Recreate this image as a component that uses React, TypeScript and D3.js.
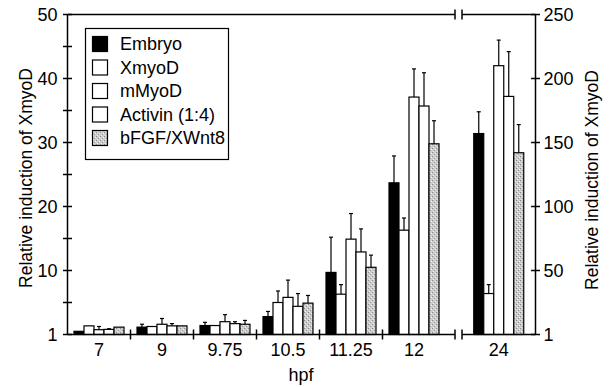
import { useRef, useEffect } from "react";
import * as d3 from "d3";

const groups = ["7", "9", "9.75", "10.5", "11.25", "12"];
const lateGroup = ["24"];
const series = ["Embryo", "XmyoD", "mMyoD", "Activin (1:4)", "bFGF/XWnt8"];

// early stages, left axis (0-50)
const embryo = [0.5, 1.15, 1.4, 2.8, 9.7, 23.7];
const xmyod = [1.35, 1.25, 1.4, 5.0, 6.3, 16.3];
const mmyod = [0.75, 1.6, 2.0, 5.8, 14.9, 37.1];
const activin = [0.8, 1.35, 1.7, 4.4, 12.9, 35.7];
const bfgf = [1.15, 1.35, 1.6, 4.9, 10.5, 29.8];

const embryoErr = [null, 1.6, 1.9, 3.6, 15.2, 27.9];
const xmyodErr = [null, null, null, 6.8, 7.8, 18.2];
const mmyodErr = [1.25, 2.5, 3.1, 8.5, 18.9, 41.5];
const activinErr = [0.9, 1.7, 2.0, 6.4, 16.5, 40.9];
const bfgfErr = [null, null, 2.2, 6.1, 12.4, 33.4];

// 24 hpf, right axis (0-250)
const late = [157, 32, 210, 186, 142];
const lateErr = [174, 39, 230, 221, 164];

const leftTicks = [0, 10, 20, 30, 40, 50];
const leftMinor = [5, 15, 25, 35, 45];
const rightTicks = [0, 50, 100, 150, 200, 250];

const fills = ["#000", "#fff", "#fff", "#fff", "url(#stipple)"];
const FONT = "'Liberation Sans', Arial, Helvetica, sans-serif";

export default function App() {
  const svgRef = useRef<SVGSVGElement>(null);

  useEffect(() => {
    const svg = d3.select(svgRef.current);
    svg.selectAll("*").remove();

    const W = 609, H = 387;
    const x0 = 67.5, x1 = 535.5, yTop = 14.5, yBot = 334.5;
    const brkA = 455, brkB = 462;

    const y = d3.scaleLinear().domain([0, 50]).range([yBot, yTop]);
    const yR = d3.scaleLinear().domain([0, 250]).range([yBot, yTop]);
    const xg = d3.scaleBand().domain(groups).range([x0, x0 + 63 * 6]);
    const xl = d3.scaleBand().domain(lateGroup).range([brkB, x1]);
    const xs = d3.scaleBand().domain(series).range([0, 50]);

    const defs = svg.append("defs");
    const pat = defs.append("pattern").attr("id", "stipple").attr("width", 4).attr("height", 4)
      .attr("patternUnits", "userSpaceOnUse");
    pat.append("rect").attr("width", 4).attr("height", 4).attr("fill", "#cdcdcd");
    pat.append("rect").attr("x", 0).attr("y", 0).attr("width", 1).attr("height", 1).attr("fill", "#8a8a8a");
    pat.append("rect").attr("x", 2).attr("y", 2).attr("width", 1).attr("height", 1).attr("fill", "#9a9a9a");
    pat.append("rect").attr("x", 3).attr("y", 1).attr("width", 1).attr("height", 1).attr("fill", "#f2f2f2");
    pat.append("rect").attr("x", 1).attr("y", 3).attr("width", 1).attr("height", 1).attr("fill", "#eeeeee");

    const g = svg.append("g");

    const earlyVals = [embryo, xmyod, mmyod, activin, bfgf];
    const earlyErrs = [embryoErr, xmyodErr, mmyodErr, activinErr, bfgfErr];

    type Bar = { x: number; top: number; err: number | null; s: number };
    const bars: Bar[] = [];
    groups.forEach((grp, gi) => {
      const off = xg(grp)! + (xg.bandwidth() - 50) / 2;
      series.forEach((s, si) => {
        const e = earlyErrs[si][gi];
        bars.push({ x: off + xs(s)!, top: y(earlyVals[si][gi]), err: e == null ? null : y(e), s: si });
      });
    });
    const offL = xl("24")! + (xl.bandwidth() - 50) / 2;
    series.forEach((s, si) => {
      bars.push({ x: offL + xs(s)!, top: yR(late[si]), err: yR(lateErr[si]), s: si });
    });

    const bw = xs.bandwidth();
    // error bars
    bars.filter(b => b.err != null).forEach(b => {
      const cx = b.x + bw / 2;
      g.append("line").attr("x1", cx).attr("x2", cx).attr("y1", b.top).attr("y2", b.err!)
        .attr("stroke", "#000").attr("stroke-width", 1.2);
      g.append("line").attr("x1", cx - 2).attr("x2", cx + 2).attr("y1", b.err!).attr("y2", b.err!)
        .attr("stroke", "#000").attr("stroke-width", 1.2);
    });
    g.selectAll(".bar").data(bars).enter().append("rect")
      .attr("x", d => d.x).attr("y", d => d.top)
      .attr("width", bw).attr("height", d => yBot - d.top)
      .attr("fill", d => fills[d.s]).attr("stroke", "#000").attr("stroke-width", 1.2);

    const ax = svg.append("g").attr("stroke", "#000").attr("stroke-width", 1.5).attr("fill", "none");
    // frame with breaks
    [yTop, yBot].forEach(yy => {
      ax.append("line").attr("x1", x0).attr("x2", brkA).attr("y1", yy).attr("y2", yy);
      ax.append("line").attr("x1", brkB).attr("x2", x1).attr("y1", yy).attr("y2", yy);
      [brkA, brkB].forEach(bx => ax.append("line").attr("x1", bx).attr("x2", bx).attr("y1", yy - 5).attr("y2", yy + 5));
    });
    ax.append("line").attr("x1", x0).attr("x2", x0).attr("y1", yTop).attr("y2", yBot);
    ax.append("line").attr("x1", x1).attr("x2", x1).attr("y1", yTop).attr("y2", yBot);

    // left ticks
    [...leftTicks, ...leftMinor].forEach(t => {
      ax.append("line").attr("x1", x0 - 4.5).attr("x2", x0 + 4.5).attr("y1", y(t)).attr("y2", y(t));
    });
    rightTicks.forEach(t => {
      ax.append("line").attr("x1", x1 - 4.5).attr("x2", x1 + 4.5).attr("y1", yR(t)).attr("y2", yR(t));
    });
    // x group separators
    groups.slice(1).forEach(grp => {
      const bx = xg(grp)!;
      ax.append("line").attr("x1", bx).attr("x2", bx).attr("y1", yBot - 5).attr("y2", yBot + 5);
    });

    const txt = svg.append("g").attr("font-family", FONT).attr("font-size", 18).attr("fill", "#000");
    leftTicks.forEach(t => {
      txt.append("text").attr("x", x0 - 10).attr("y", y(t)).attr("dy", "0.36em")
        .attr("text-anchor", "end").text(t === 0 ? "1" : String(t));
    });
    rightTicks.forEach(t => {
      txt.append("text").attr("x", x1 + 8).attr("y", yR(t)).attr("dy", "0.36em")
        .text(t === 0 ? "1" : String(t));
    });
    groups.forEach(grp => {
      txt.append("text").attr("x", xg(grp)! + xg.bandwidth() / 2).attr("y", 356)
        .attr("text-anchor", "middle").text(grp);
    });
    txt.append("text").attr("x", xl("24")! + xl.bandwidth() / 2).attr("y", 356)
      .attr("text-anchor", "middle").text("24");
    txt.append("text").attr("x", 301).attr("y", 381).attr("text-anchor", "middle").text("hpf");
    txt.append("text").attr("transform", "translate(32,178) rotate(-90)").attr("text-anchor", "middle")
      .attr("font-size", 17.5).text("Relative induction of XmyoD");
    txt.append("text").attr("transform", "translate(598,180) rotate(-90)").attr("text-anchor", "middle")
      .attr("font-size", 17.5).text("Relative induction of XmyoD");

    // legend
    const lg = svg.append("g");
    lg.append("rect").attr("x", 85.5).attr("y", 28.5).attr("width", 143).attr("height", 131)
      .attr("fill", "#fff").attr("stroke", "#000").attr("stroke-width", 1.2);
    series.forEach((s, i) => {
      const cy = 44 + i * 23.5;
      lg.append("rect").attr("x", 92.5).attr("y", cy - 7.5).attr("width", 15).attr("height", 15)
        .attr("fill", fills[i]).attr("stroke", "#000").attr("stroke-width", 1.2);
      lg.append("text").attr("x", 120).attr("y", cy).attr("dy", "0.36em")
        .attr("font-family", FONT).attr("font-size", 18).text(s);
    });

    svg.attr("width", W).attr("height", H);
  }, []);

  return (
    <svg ref={svgRef} width={609} height={387}
      style={{ position: "absolute", left: 0, top: 0, background: "#fff" }} />
  );
}
